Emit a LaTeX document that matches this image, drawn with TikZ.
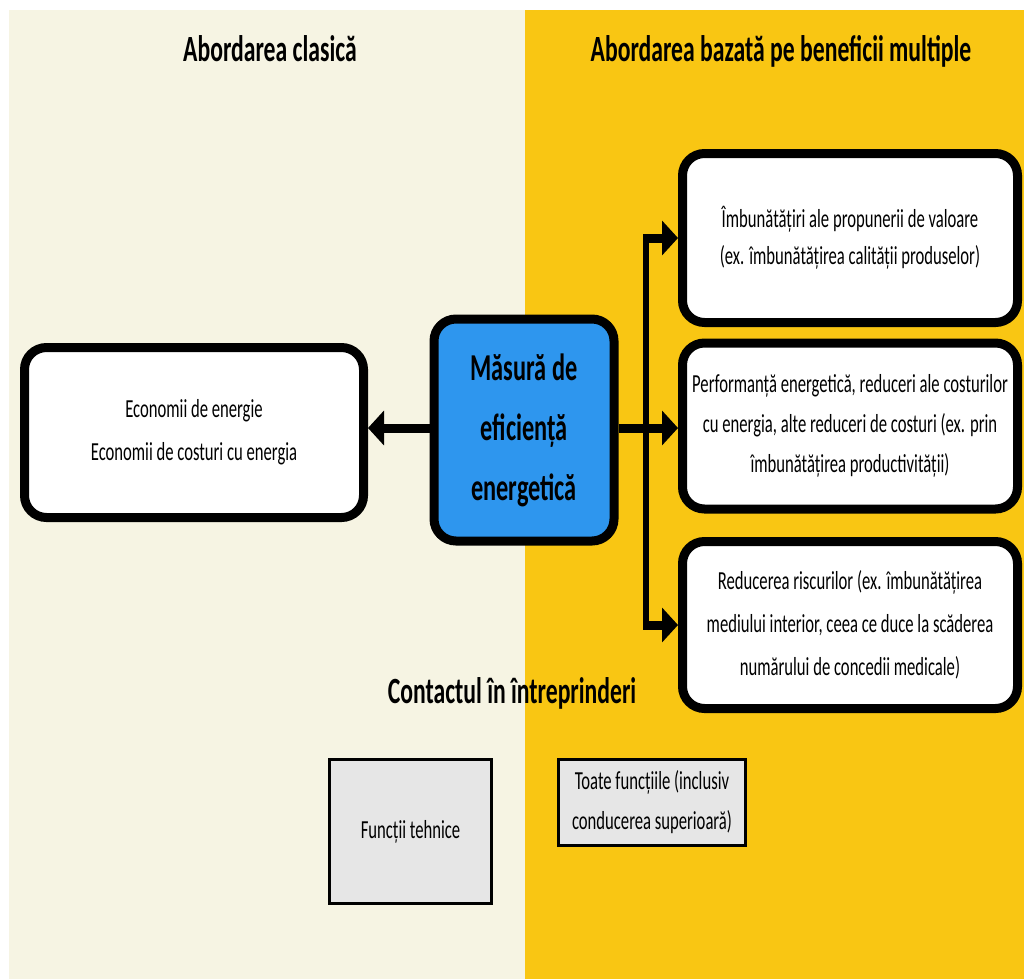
\documentclass[tikz,border=0pt]{standalone}
\usepackage{fontspec}
\setmainfont{Carlito}[FakeStretch=0.64]
\usetikzlibrary{arrows.meta}
\definecolor{cream}{HTML}{F6F4E3}
\definecolor{gold}{HTML}{F9C613}
\definecolor{bluebox}{HTML}{2E96EE}
\definecolor{grayfill}{HTML}{E6E6E6}
\begin{document}
\begin{tikzpicture}[x=1pt,y=-1pt,
  bigbox/.style={draw=black, line width=9pt, rounded corners=22pt, fill=white,
    inner sep=0pt, align=center, font=\fontsize{26}{40}\selectfont},
  midbox/.style={bigbox, fill=bluebox, font=\fontsize{38}{60}\selectfont\bfseries},
  smallbox/.style={draw=black, line width=3pt, fill=grayfill, inner sep=0pt,
    align=center, font=\fontsize{26}{40}\selectfont},
  title/.style={anchor=base, inner sep=0pt, font=\fontsize{37}{44}\selectfont\bfseries},
  arr/.style={line width=9pt, -{Triangle[length=16pt,width=34pt]}},
  trunk/.style={line width=6pt}
]
\useasboundingbox (0,0) rectangle (1024,979);
\fill[white] (0,0) rectangle (1024,979);
\fill[cream] (9,10) rectangle (525,979);
\fill[gold] (525,10) rectangle (1024,979);

\node[title] (t1) at (270,62) {Abordarea clasică};
\node[title] (t2) at (781,62) {Abordarea bazată pe beneficii multiple};
\node[title] (t3) at (512,703) {Contactul în întreprinderi};

\node[bigbox, minimum width=339pt, minimum height=170pt, font=\fontsize{26}{43}\selectfont] (l) at (194,432.5)
  {Economii de energie\\Economii de costuri cu energia};
\node[midbox, minimum width=180pt, minimum height=222pt] (m) at (524,430)
  {Măsură de\\eficiență\\energetică};
\node[bigbox, minimum width=335pt, minimum height=169pt, font=\fontsize{26}{37}\selectfont] (r1) at (850,238)
  {Îmbunătățiri ale propunerii de valoare\\(ex. îmbunătățirea calității produselor)};
\node[bigbox, minimum width=335pt, minimum height=166pt] (r2) at (850,426)
  {Performanță energetică, reduceri ale costurilor\\cu energia, alte reduceri de costuri (ex. prin\\îmbunătățirea productivității)};
\node[bigbox, minimum width=335pt, minimum height=167pt, font=\fontsize{26}{43}\selectfont] (r3) at (850,625)
  {Reducerea riscurilor (ex. îmbunătățirea\\mediului interior, ceea ce duce la scăderea\\numărului de concedii medicale)};

\node[smallbox, minimum width=162pt, minimum height=144pt] (f1) at (410.5,831.5) {Funcții tehnice};
\node[smallbox, minimum width=187pt, minimum height=86pt] (f2) at (652,802.5)
  {Toate funcțiile (inclusiv\\conducerea superioară)};

\coordinate (j) at (646,428);
\coordinate (mr) at (m.east |- j);
\coordinate (ml) at (m.west |- j);
\draw[arr] (ml) -- (ml -| l.east);
\draw[arr] (mr) -- (mr -| r2.west);
\draw[trunk] (j |- r1.west) -- (j |- r3.west);
\draw[arr] ([xshift=-3pt]j |- r1.west) -- (r1.west);
\draw[arr] ([xshift=-3pt]j |- r3.west) -- (r3.west);
\end{tikzpicture}
\end{document}
